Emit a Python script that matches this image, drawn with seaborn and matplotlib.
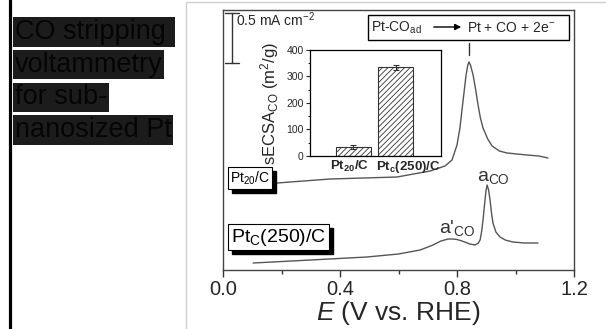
import numpy as np
import pandas as pd
import matplotlib
matplotlib.use("Agg")
import matplotlib.pyplot as plt
from matplotlib.lines import Line2D
from matplotlib.patches import Rectangle, FancyArrowPatch
from matplotlib.ticker import MultipleLocator, FixedLocator
import seaborn as sns

# ---- CO stripping curves (E in V vs. RHE, current density in mA cm^-2, offset) ----
E_pt20 = [0.185, 0.366, 0.595, 0.708, 0.759, 0.783, 0.800, 0.810, 0.817, 0.825,
          0.831, 0.837, 0.841, 0.846, 0.855, 0.864, 0.872, 0.880, 0.889, 0.905,
          0.920, 0.945, 0.971, 1.039, 1.080, 1.111]
j_pt20 = [0.87, 0.91, 0.93, 0.99, 1.04, 1.10, 1.25, 1.42, 1.60, 1.80,
          1.95, 2.05, 2.08, 2.05, 1.95, 1.80, 1.65, 1.52, 1.42, 1.31,
          1.24, 1.19, 1.17, 1.15, 1.14, 1.12]

E_ptc = [0.103, 0.300, 0.492, 0.600, 0.674, 0.718, 0.745, 0.770, 0.786, 0.800,
         0.817, 0.844, 0.862, 0.873, 0.879, 0.884, 0.889, 0.894, 0.899, 0.903,
         0.908, 0.913, 0.918, 0.923, 0.933, 0.947, 0.965, 0.991, 1.030, 1.077]
j_ptc = [0.07, 0.10, 0.13, 0.16, 0.20, 0.25, 0.29, 0.31, 0.31, 0.305,
         0.29, 0.26, 0.25, 0.27, 0.30, 0.38, 0.50, 0.65, 0.79, 0.85,
         0.80, 0.70, 0.57, 0.47, 0.38, 0.33, 0.30, 0.28, 0.27, 0.27]

# ---- specific ECSA from CO stripping (inset) ----
catalysts = ["Pt20/C", "Ptc(250)/C"]
catalyst_labels = [r"$\mathbf{Pt_{20}/C}$", r"$\mathbf{Pt_c(250)/C}$"]
secsa = [34, 335]
secsa_err = [6, 9]

x_ticks = [0.0, 0.4, 0.8, 1.2]
x_ticklabels = ["0.0", "0.4", "0.8", "1.2"]
scale_bar = 0.5  # mA cm^-2

title_lines = ["CO stripping ", "voltammetry", "for sub-", "nanosized Pt"]

sns.set_theme(style="white")
plt.rcParams["font.family"] = ["Liberation Sans", "DejaVu Sans"]
plt.rcParams["mathtext.fontset"] = "custom"
plt.rcParams["mathtext.rm"] = "Liberation Sans"
plt.rcParams["mathtext.it"] = "Liberation Sans:italic"
plt.rcParams["mathtext.bf"] = "Liberation Sans:bold"
plt.rcParams["hatch.linewidth"] = 0.6

W, H = 606, 329
fig = plt.figure(figsize=(W / 100, H / 100), dpi=100)
fig.patch.set_facecolor("white")


def fx(x):
    return x / W


def fy(y):
    return 1 - y / H


# page decorations
fig.add_artist(Line2D([fx(9.5), fx(9.5)], [0, 1], color="black", lw=2.3))
fig.add_artist(Line2D([fx(186), fx(186)], [0, fy(2)], color="#cfcfcf", lw=1))
fig.add_artist(Line2D([fx(186), 1], [fy(2), fy(2)], color="#cfcfcf", lw=1))

for i, line in enumerate(title_lines):
    fig.text(fx(15), fy(32 + 32.7 * i), line, ha="left", va="center",
             fontsize=19.5, color="#050505",
             bbox=dict(boxstyle="square,pad=0.06", fc="#1c1c1c", ec="none"))

# ---- main axes ----
ax = fig.add_axes([fx(223), fy(270), fx(574) - fx(223), fy(10) - fy(270)])
curve_color = "#555555"
df = pd.concat([
    pd.DataFrame({"E": E_pt20, "j": j_pt20, "sample": "Pt20/C"}),
    pd.DataFrame({"E": E_ptc, "j": j_ptc, "sample": "Ptc(250)/C"}),
])
sns.lineplot(data=df, x="E", y="j", hue="sample", units="sample",
             estimator=None, sort=False, palette=[curve_color, curve_color],
             linewidth=1.0, legend=False, ax=ax)
ax.set_xlim(0, 1.2)
ax.set_ylim(0, 2.6)
ax.set_xticks(x_ticks)
ax.set_xticklabels(x_ticklabels)
ax.xaxis.set_minor_locator(FixedLocator([0.2, 0.6, 1.0]))
ax.set_yticks([])
ax.tick_params(axis="x", which="major", direction="out", length=5, width=1,
               color="#333333", labelsize=14.5, pad=2, bottom=True)
ax.tick_params(axis="x", which="minor", direction="out", length=3, width=1,
               color="#333333", bottom=True)
for s in ax.spines.values():
    s.set_color("#444444")
    s.set_linewidth(1.0)
ax.set_ylabel("")
ax.set_xlabel(r"$\mathit{E}$ (V vs. RHE)", fontsize=19, labelpad=0)

# scale bar
xb = 0.031
ybot, ytop = 2.07, 2.07 + scale_bar
ax.plot([xb, xb], [ybot, ytop], color="#333333", lw=1)
ax.plot([xb - 0.024, xb + 0.024], [ybot, ybot], color="#333333", lw=1)
ax.plot([xb - 0.024, xb + 0.024], [ytop, ytop], color="#333333", lw=1)
ax.text(0.044, 2.50, "0.5 mA cm$^{-2}$", fontsize=10, ha="left", va="center")

# peak marker
ax.plot([0.841, 0.841], [2.15, 2.27], color="#333333", lw=1)

# reaction box
fig.add_artist(Rectangle((fx(368), fy(40)), fx(569) - fx(368), fy(15) - fy(40),
                         fill=False, ec="black", lw=1))
fig.text(fx(371), fy(28), r"Pt-CO$_\mathregular{ad}$", fontsize=10,
         ha="left", va="center")
fig.add_artist(FancyArrowPatch(
    (fx(431), fy(27)), (fx(464), fy(27)), transform=fig.transFigure,
    arrowstyle="-|>", mutation_scale=9, color="black", lw=1))
fig.text(fx(467), fy(28), "Pt + CO + 2e$^{-}$", fontsize=10, ha="left", va="center")

# framed sample labels (drop shadows added after layout)
framed = [
    fig.text(fx(230), fy(178), "Pt$_{20}$/C", fontsize=10, ha="left",
             va="center", color="black", zorder=5,
             bbox=dict(boxstyle="square,pad=0.15", fc="white", ec="black", lw=0.8)),
    fig.text(fx(231), fy(237), r"Pt$_\mathregular{C}$(250)/C", fontsize=14,
             ha="left", va="center", color="black", zorder=5,
             bbox=dict(boxstyle="square,pad=0.15", fc="white", ec="black", lw=0.8)),
]

ax.text(0.925, 0.92, r"a$_\mathregular{CO}$", fontsize=14, ha="center",
        va="center", color="#333333")
ax.text(0.80, 0.42, r"a$'_\mathregular{CO}$", fontsize=14, ha="center",
        va="center", color="#333333")

# ---- inset: specific ECSA ----
axi = fig.add_axes([fx(310), fy(156), fx(441) - fx(310), fy(50) - fy(156)])
bar_df = pd.DataFrame({"catalyst": catalysts, "secsa": secsa})
sns.barplot(data=bar_df, x="catalyst", y="secsa", color="white", width=0.82,
            errorbar=None, ax=axi)
for p in axi.patches:
    p.set_hatch("//////")
    p.set_edgecolor("#333333")
    p.set_linewidth(0.8)
axi.errorbar(range(len(secsa)), secsa, yerr=secsa_err, fmt="none",
             ecolor="#333333", elinewidth=0.8, capsize=2, capthick=0.8)
axi.set_xlim(-1.02, 2.06)
axi.set_ylim(0, 400)
axi.yaxis.set_major_locator(MultipleLocator(100))
axi.yaxis.set_minor_locator(MultipleLocator(50))
axi.set_xticks([-0.1, 1.3])
axi.set_xticklabels(catalyst_labels, fontsize=9.5)
axi.tick_params(axis="x", length=0, pad=2)
axi.tick_params(axis="y", which="major", direction="out", length=3, width=0.8,
                labelsize=7.5, pad=1.5, left=True)
axi.tick_params(axis="y", which="minor", direction="out", length=1.5,
                width=0.8, left=True)
for s in axi.spines.values():
    s.set_color("black")
    s.set_linewidth(0.9)
axi.set_xlabel("")
axi.set_ylabel(r"sECSA$_\mathregular{CO}$ (m$^2$/g)", fontsize=12)
axi.yaxis.set_label_coords(-0.22, 0.5)
axi.set_facecolor("white")

# drop shadows behind the framed labels
fig.canvas.draw()
for t in framed:
    bb = t.get_bbox_patch().get_window_extent()
    fig.add_artist(Rectangle((fx(bb.x0 + 4), (bb.y0 - 4) / H),
                             bb.width / W, bb.height / H,
                             fc="black", ec="black", zorder=4))

fig.savefig("out.png", dpi=100, facecolor="white")
